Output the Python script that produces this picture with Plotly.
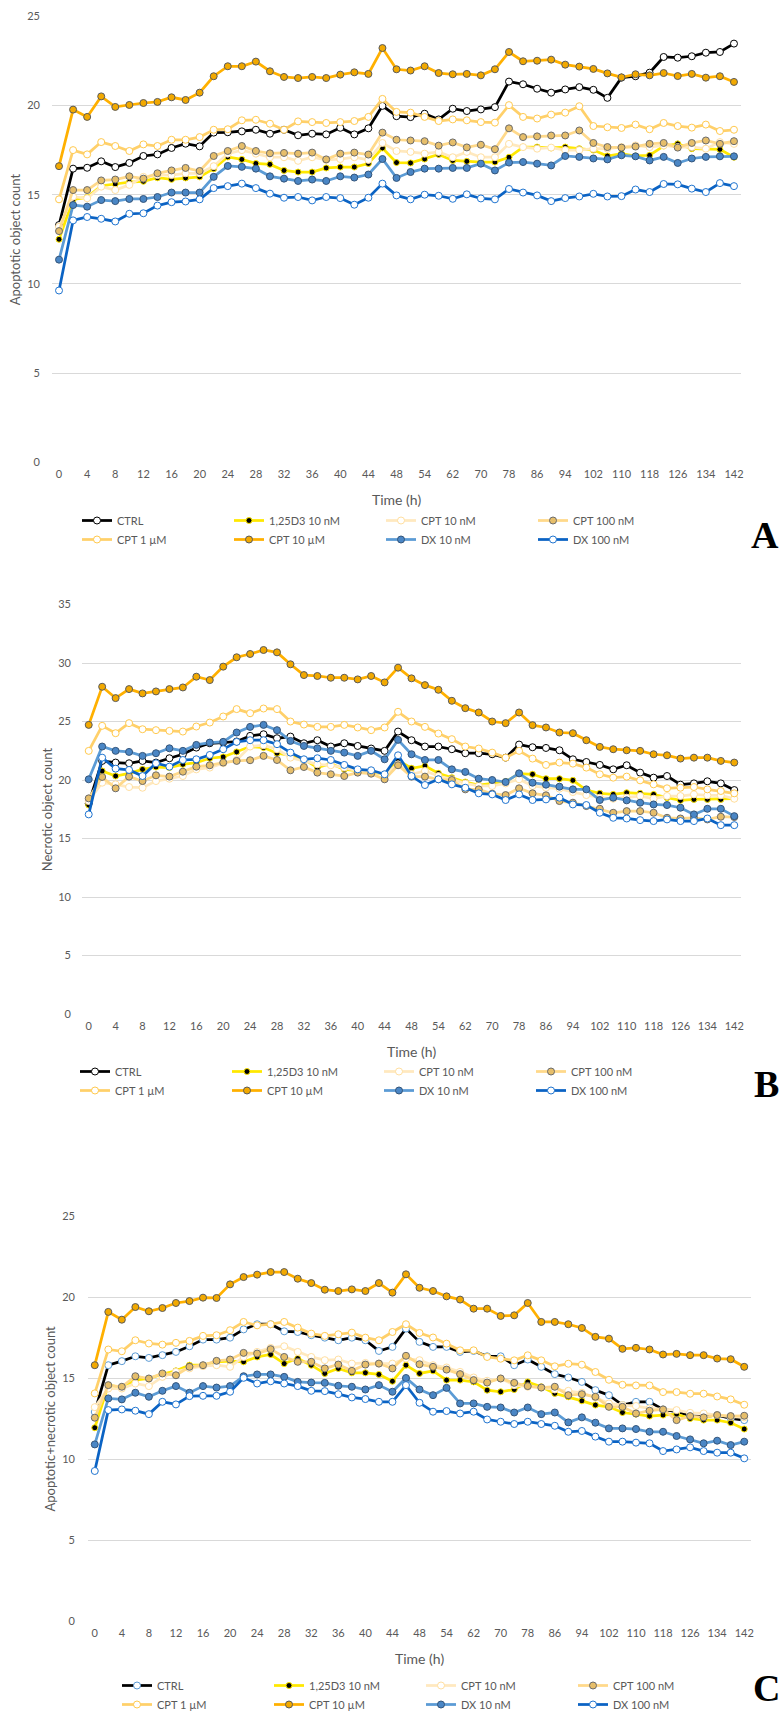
import plotly.graph_objects as go

W, H = 781, 1711
RIGHT_MARGIN = 30          # keeps each horizontal legend at four entries per row
PW = W - RIGHT_MARGIN      # paper (plotting) width in px

# Sampling times (h); every other one is labelled on the axis
time_labels = ["0", "2", "4", "6", "8", "10", "12", "14", "16", "18", "20", "22", "24",
               "26", "28", "30", "32", "34", "36", "38", "40", "42", "44", "46", "48",
               "50", "54", "58", "62", "66", "70", "74", "78", "82", "86", "90", "94",
               "98", "102", "106", "110", "114", "118", "122", "126", "130", "134", "138", "142"]

series_names = ["CTRL", "1,25D3 10 nM", "CPT 10 nM", "CPT 100 nM",
                "CPT 1 µM", "CPT 10 µM", "DX 10 nM", "DX 100 nM"]

# ---- Apoptotic object count ----
apo_ctrl = [13.3, 16.46, 16.51, 16.87, 16.55, 16.78, 17.17, 17.26, 17.62, 17.86, 17.71, 18.48, 18.5,
            18.55, 18.64, 18.42, 18.64, 18.33, 18.42, 18.38, 18.75, 18.38, 18.72, 19.98, 19.4,
            19.35, 19.54, 19.22, 19.82, 19.69, 19.78, 19.91, 21.34, 21.19, 20.94, 20.72, 20.9,
            21.03, 20.88, 20.43, 21.56, 21.64, 21.84, 22.72, 22.68, 22.76, 22.96, 23.0, 23.47]
apo_d3 = [12.5, 14.74, 14.85, 15.5, 15.6, 15.7, 15.75, 15.95, 15.86, 15.94, 16.0, 16.46, 17.12,
          16.98, 16.75, 16.7, 16.36, 16.27, 16.27, 16.5, 16.55, 16.55, 16.75, 17.62, 16.8,
          16.78, 17.0, 17.26, 16.92, 16.87, 16.83, 16.83, 17.1, 17.67, 17.67, 17.62, 17.67,
          17.58, 17.5, 17.17, 17.3, 17.17, 17.21, 17.73, 17.85, 17.58, 17.58, 17.54, 17.1]
apo_cpt10n = [13.2, 14.89, 14.8, 15.45, 15.26, 15.55, 16.0, 16.1, 16.1, 16.2, 16.2, 16.6, 17.3,
              17.5, 17.3, 17.1, 17.1, 16.9, 17.1, 16.95, 17.0, 17.1, 16.95, 17.9, 17.45,
              17.4, 17.3, 17.4, 17.1, 17.4, 17.1, 17.1, 17.85, 17.67, 17.58, 17.64, 17.5,
              17.5, 17.58, 17.58, 17.67, 17.76, 17.67, 17.76, 17.67, 17.67, 17.58, 17.95, 17.85]
apo_cpt100n = [12.96, 15.26, 15.26, 15.8, 15.85, 16.03, 15.9, 16.2, 16.36, 16.5, 16.33, 17.17, 17.45,
               17.73, 17.45, 17.32, 17.34, 17.3, 17.36, 16.98, 17.3, 17.36, 17.25, 18.48, 18.08,
               18.04, 18.0, 17.75, 17.93, 17.65, 17.8, 17.55, 18.72, 18.23, 18.27, 18.32, 18.32,
               18.6, 17.9, 17.67, 17.64, 17.7, 17.85, 17.9, 17.64, 17.9, 18.04, 17.85, 18.0]
apo_cpt1u = [14.74, 17.5, 17.26, 17.95, 17.73, 17.45, 17.82, 17.73, 18.08, 18.08, 18.23, 18.64, 18.67,
             19.17, 19.2, 18.98, 18.64, 19.11, 19.07, 19.02, 19.07, 19.13, 19.36, 20.37, 19.64,
             19.6, 19.36, 19.13, 19.22, 19.17, 19.07, 19.04, 20.02, 19.36, 19.27, 19.49, 19.6,
             19.96, 18.85, 18.78, 18.74, 18.93, 18.67, 19.02, 18.85, 18.76, 18.93, 18.57, 18.64]
apo_cpt10u = [16.6, 19.77, 19.36, 20.51, 19.92, 20.03, 20.14, 20.2, 20.46, 20.31, 20.72, 21.64, 22.2,
              22.2, 22.46, 21.92, 21.6, 21.54, 21.6, 21.54, 21.73, 21.86, 21.77, 23.22, 22.03,
              21.96, 22.2, 21.82, 21.75, 21.77, 21.69, 22.03, 23.0, 22.48, 22.51, 22.57, 22.29,
              22.18, 22.05, 21.8, 21.58, 21.75, 21.69, 21.82, 21.65, 21.77, 21.56, 21.64, 21.32]
apo_dx10n = [11.36, 14.42, 14.33, 14.7, 14.64, 14.76, 14.76, 14.87, 15.12, 15.12, 15.12, 16.0, 16.61,
             16.56, 16.46, 16.03, 15.9, 15.77, 15.85, 15.77, 16.03, 15.96, 16.13, 17.0, 15.94,
             16.27, 16.46, 16.46, 16.5, 16.5, 16.74, 16.36, 16.8, 16.83, 16.74, 16.64, 17.17,
             17.12, 17.03, 16.98, 17.21, 17.15, 16.92, 17.12, 16.78, 17.03, 17.12, 17.15, 17.15]
apo_dx100n = [9.63, 13.56, 13.75, 13.65, 13.5, 13.93, 13.96, 14.39, 14.58, 14.62, 14.74, 15.37, 15.48,
              15.62, 15.37, 15.06, 14.83, 14.87, 14.68, 14.87, 14.81, 14.44, 14.83, 15.62, 14.96,
              14.74, 15.0, 14.94, 14.77, 15.02, 14.79, 14.74, 15.32, 15.12, 14.96, 14.64, 14.81,
              14.9, 15.05, 14.9, 14.92, 15.29, 15.15, 15.6, 15.58, 15.34, 15.15, 15.65, 15.48]

# ---- Necrotic object count ----
nec_ctrl = [18.0, 21.63, 21.49, 21.43, 21.63, 21.49, 21.86, 22.2, 22.77, 23.14, 23.2, 23.29, 23.77,
            23.91, 23.57, 23.71, 23.14, 23.4, 22.86, 23.14, 22.91, 22.69, 22.49, 24.14, 23.4,
            22.86, 22.86, 22.63, 22.29, 22.29, 22.2, 21.91, 23.03, 22.8, 22.74, 22.54, 21.77,
            21.54, 21.29, 20.91, 21.26, 20.63, 20.2, 20.34, 19.6, 19.71, 19.89, 19.71, 19.14]
nec_d3 = [17.86, 20.77, 20.34, 20.57, 20.91, 21.11, 21.06, 21.34, 21.49, 21.86, 21.97, 22.4, 22.86,
          22.77, 22.29, 22.11, 21.77, 21.06, 21.4, 20.91, 20.83, 20.69, 20.49, 21.69, 21.0,
          21.2, 20.57, 20.2, 19.83, 19.57, 19.71, 19.86, 20.54, 20.49, 20.11, 20.11, 19.97,
          19.14, 18.86, 18.77, 18.91, 18.86, 18.77, 18.49, 18.26, 18.34, 18.34, 18.34, 18.4]
nec_cpt10n = [18.2, 19.77, 19.63, 19.4, 19.34, 19.91, 20.11, 20.34, 20.91, 21.06, 21.43, 21.71, 22.86,
              22.97, 22.63, 21.91, 21.63, 21.34, 21.26, 21.06, 20.77, 20.77, 20.49, 21.34, 20.49,
              20.77, 20.34, 20.06, 19.71, 19.49, 19.49, 19.71, 20.06, 19.49, 19.34, 19.26, 18.97,
              18.71, 18.49, 18.4, 18.49, 18.63, 18.4, 18.63, 18.63, 18.77, 18.69, 18.69, 18.4]
nec_cpt100n = [18.43, 20.26, 19.29, 20.29, 19.91, 20.4, 20.29, 20.71, 21.14, 21.26, 21.49, 21.63, 21.69,
               22.06, 21.71, 20.83, 21.11, 20.63, 20.49, 20.34, 20.63, 20.54, 20.06, 21.26, 20.29,
               20.29, 20.06, 20.0, 19.2, 19.2, 18.83, 18.71, 19.29, 18.86, 18.69, 18.2, 18.06,
               17.77, 17.54, 17.2, 17.34, 17.34, 17.2, 16.77, 16.71, 16.77, 16.63, 16.86, 16.83]
nec_cpt1u = [22.49, 24.63, 24.0, 24.86, 24.34, 24.26, 24.2, 24.14, 24.57, 24.91, 25.43, 26.06, 25.71,
             26.11, 26.06, 25.0, 24.74, 24.54, 24.54, 24.71, 24.49, 24.26, 24.49, 25.83, 25.0,
             24.54, 23.97, 23.49, 22.86, 22.69, 22.34, 21.91, 22.49, 21.83, 21.29, 21.49, 21.4,
             21.06, 20.49, 20.2, 20.29, 19.97, 19.63, 19.29, 19.34, 19.4, 19.2, 19.06, 18.86]
nec_cpt10u = [24.71, 27.97, 27.0, 27.77, 27.4, 27.57, 27.77, 27.91, 28.83, 28.54, 29.69, 30.49, 30.77,
              31.11, 30.91, 29.89, 28.97, 28.89, 28.74, 28.74, 28.6, 28.89, 28.34, 29.6, 28.69,
              28.11, 27.71, 26.77, 26.14, 25.77, 25.0, 24.86, 25.77, 24.69, 24.49, 24.06, 24.0,
              23.4, 22.83, 22.63, 22.54, 22.49, 22.2, 22.11, 21.83, 21.91, 21.91, 21.63, 21.49]
nec_dx10n = [20.06, 22.86, 22.49, 22.4, 22.06, 22.29, 22.71, 22.49, 23.0, 23.2, 23.26, 24.06, 24.54,
             24.71, 24.26, 23.34, 22.91, 22.71, 22.49, 22.34, 22.06, 22.49, 21.77, 23.43, 22.2,
             21.71, 21.71, 20.91, 20.69, 20.11, 20.0, 19.83, 20.57, 19.77, 19.6, 19.43, 19.2,
             19.2, 18.29, 18.49, 18.26, 18.06, 17.91, 17.86, 17.63, 17.06, 17.54, 17.54, 16.91]
nec_dx100n = [17.06, 21.91, 20.97, 20.86, 20.34, 21.43, 21.14, 21.71, 21.77, 22.14, 22.63, 23.26, 23.4,
              23.4, 23.06, 22.34, 21.77, 21.86, 21.71, 21.29, 20.91, 20.83, 20.49, 22.11, 20.34,
              19.57, 20.06, 19.63, 19.34, 18.86, 18.77, 18.29, 18.77, 18.29, 18.34, 18.49, 17.91,
              17.86, 17.2, 16.77, 16.71, 16.57, 16.49, 16.63, 16.49, 16.49, 16.71, 16.14, 16.14]

# ---- Apoptotic + necrotic object count ----
tot_ctrl = [12.9, 15.79, 16.04, 16.34, 16.24, 16.41, 16.61, 16.96, 17.37, 17.37, 17.49, 18.0, 18.32,
            18.32, 17.88, 17.84, 17.64, 17.49, 17.33, 17.49, 17.33, 16.67, 16.92, 18.05, 17.23,
            16.92, 16.92, 16.61, 16.67, 16.34, 16.34, 15.79, 16.14, 15.69, 15.24, 15.03, 14.76,
            14.25, 13.94, 13.33, 13.53, 13.53, 13.06, 12.92, 12.67, 12.61, 12.71, 12.5, 12.4]
tot_d3 = [11.93, 14.56, 14.41, 14.87, 14.97, 15.24, 15.44, 15.79, 15.79, 16.0, 16.04, 16.0, 16.3,
          16.45, 15.89, 16.2, 15.79, 15.28, 15.59, 15.32, 15.32, 15.22, 14.8, 15.79, 15.28,
          15.44, 14.87, 14.87, 14.76, 14.25, 14.15, 14.29, 14.76, 14.46, 14.05, 13.84, 13.59,
          13.33, 13.22, 12.87, 12.77, 12.65, 12.71, 12.77, 12.5, 12.4, 12.4, 12.24, 11.85]
tot_cpt10n = [13.2, 14.35, 14.35, 14.66, 14.5, 15.07, 15.38, 15.59, 15.73, 15.79, 15.69, 16.3, 16.61,
              16.86, 16.96, 16.61, 16.3, 16.1, 16.14, 15.89, 15.93, 15.89, 15.89, 16.2, 16.1,
              15.79, 15.65, 15.38, 15.03, 14.83, 14.97, 14.56, 14.46, 14.41, 14.29, 14.21, 14.09,
              13.8, 13.43, 13.33, 13.27, 13.12, 13.06, 13.02, 12.85, 12.81, 12.71, 12.61, 12.57]
tot_cpt100n = [12.55, 14.56, 14.46, 15.11, 14.97, 15.28, 15.17, 15.69, 15.79, 16.06, 16.14, 16.55, 16.51,
               16.78, 16.3, 16.0, 16.0, 15.59, 15.83, 15.44, 15.83, 15.89, 15.59, 16.37, 15.85,
               15.69, 15.52, 15.24, 14.87, 14.72, 14.97, 14.7, 14.5, 14.41, 14.46, 13.94, 14.0,
               13.84, 13.22, 13.22, 12.81, 12.98, 13.06, 12.4, 12.65, 12.57, 12.71, 12.65, 12.67]
tot_cpt1u = [14.05, 16.76, 16.65, 17.33, 17.13, 17.06, 17.17, 17.29, 17.6, 17.64, 17.95, 18.46, 18.25,
             18.32, 18.46, 18.11, 17.74, 17.6, 17.7, 17.8, 17.49, 17.33, 17.84, 18.32, 17.78,
             17.5, 17.12, 16.71, 16.71, 16.3, 16.19, 16.09, 16.4, 16.09, 15.72, 15.88, 15.82,
             15.37, 14.89, 14.58, 14.54, 14.54, 14.13, 14.13, 14.03, 14.03, 13.86, 13.68, 13.35]
tot_cpt10u = [15.79, 19.08, 18.6, 19.38, 19.12, 19.32, 19.63, 19.75, 19.96, 19.94, 20.78, 21.23, 21.38,
              21.54, 21.54, 21.13, 20.86, 20.45, 20.37, 20.47, 20.37, 20.86, 20.27, 21.4, 20.57,
              20.37, 20.04, 19.84, 19.28, 19.28, 18.83, 18.87, 19.63, 18.46, 18.46, 18.32, 18.09,
              17.54, 17.43, 16.8, 16.86, 16.76, 16.45, 16.49, 16.41, 16.41, 16.2, 16.16, 15.69]
tot_dx10n = [10.9, 13.74, 13.68, 14.09, 13.84, 14.21, 14.5, 14.09, 14.5, 14.41, 14.5, 15.11, 15.22,
             15.22, 15.07, 14.76, 14.72, 14.7, 14.52, 14.46, 14.29, 14.56, 14.15, 15.0, 14.29,
             13.94, 14.39, 13.43, 13.43, 13.22, 13.18, 12.87, 13.18, 12.77, 12.87, 12.26, 12.57,
             12.24, 11.89, 11.89, 11.85, 11.68, 11.68, 11.42, 11.21, 10.97, 11.13, 10.86, 11.07]
tot_dx100n = [9.26, 13.02, 13.06, 12.98, 12.77, 13.53, 13.37, 13.88, 13.9, 13.9, 14.15, 15.01, 14.66,
              14.8, 14.66, 14.5, 14.21, 14.19, 14.0, 13.8, 13.7, 13.53, 13.53, 14.56, 13.47,
              12.92, 12.96, 12.81, 12.92, 12.44, 12.3, 12.16, 12.3, 12.16, 12.05, 11.68, 11.73,
              11.38, 11.07, 11.07, 11.01, 10.97, 10.49, 10.59, 10.72, 10.49, 10.39, 10.39, 10.04]

# line colour, marker fill, marker outline
styles = [
    ("#000000", "#FFFFFF", "#000000"),
    ("#FFE800", "#000000", "#FFE800"),
    ("#FFE9BF", "#FFFFFF", "#FFDFA0"),
    ("#FFD98A", "#E6BE6A", "#6B6B6B"),
    ("#FFD06A", "#FFFFFF", "#FFC94D"),
    ("#FFB000", "#F2A900", "#5A5A5A"),
    ("#5B9BD5", "#4A86C5", "#34557A"),
    ("#0B63C4", "#FFFFFF", "#1F74D0"),
]

FONT = "Lato"
GREY = "#595959"
GRID = "#D9D9D9"


def px(x):
    """pixel x -> paper fraction"""
    return x / PW


def cx(x):
    """pixel x -> container fraction"""
    return x / W


def py(y):
    return 1 - y / H


panels = [
    dict(series=[apo_ctrl, apo_d3, apo_cpt10n, apo_cpt100n, apo_cpt1u, apo_cpt10u, apo_dx10n, apo_dx100n],
         ymax=25, xdom=(52, 741), ydom=(16.3, 462.3), title="Apoptotic object count",
         ytitle_x=15, legend_xy=(77, 506), tick_standoff=11, letter="A", letter_xy=(765, 535)),
    dict(series=[nec_ctrl, nec_d3, nec_cpt10n, nec_cpt100n, nec_cpt1u, nec_cpt10u, nec_dx10n, nec_dx100n],
         ymax=35, xdom=(82, 741), ydom=(604.5, 1014), title="Necrotic object count",
         ytitle_x=47, legend_xy=(75, 1057), tick_standoff=10, letter="B", letter_xy=(766, 1084)),
    dict(series=[tot_ctrl, tot_d3, tot_cpt10n, tot_cpt100n, tot_cpt1u, tot_cpt10u, tot_dx10n, tot_dx100n],
         ymax=25, xdom=(88, 751), ydom=(1216, 1621), title="Apoptotic+necrotic object count",
         ytitle_x=49, legend_xy=(117, 1671), tick_standoff=12, letter="C", letter_xy=(766, 1688)),
]

fig = go.Figure()
annotations = []
layout = {}

for p_idx, p in enumerate(panels):
    sfx = "" if p_idx == 0 else str(p_idx + 1)
    leg = "legend" + sfx
    for s_idx, (name, vals) in enumerate(zip(series_names, p["series"])):
        lc, mf, mo = styles[s_idx]
        if p_idx == 2 and s_idx == 0:
            mo = "#5B9BD5"
        size = 6 if s_idx == 1 else 7
        fig.add_trace(go.Scatter(
            x=time_labels, y=vals, name=name, mode="lines+markers",
            line=dict(color=lc, width=2.75),
            marker=dict(symbol="circle", size=size, color=mf, line=dict(color=mo, width=1)),
            xaxis="x" + sfx, yaxis="y" + sfx, legend=leg, hoverinfo="skip",
        ))

    x0, x1 = p["xdom"]
    ytop, ybot = p["ydom"]
    layout["xaxis" + sfx] = dict(
        domain=[px(x0), min(px(x1), 1.0)], anchor="y" + sfx, type="category",
        categoryorder="array", categoryarray=time_labels, range=[-0.5, len(time_labels) - 0.5],
        tickmode="array", tickvals=time_labels[::2], ticks="", showgrid=False,
        showline=False, zeroline=False, ticklabelstandoff=4,
        tickfont=dict(family=FONT, size=11, color=GREY),
    )
    layout["yaxis" + sfx] = dict(
        domain=[py(ybot), py(ytop)], anchor="x" + sfx, range=[0, p["ymax"]],
        tick0=0, dtick=5, showgrid=True, gridcolor=GRID, gridwidth=1,
        zeroline=False, showline=False, ticks="", ticklabelstandoff=p["tick_standoff"],
        tickfont=dict(family=FONT, size=11, color=GREY),
    )
    lgx, lgy = p["legend_xy"]
    layout[leg] = dict(
        orientation="h", xref="container", yref="container",
        x=cx(lgx), xanchor="left", y=py(lgy), yanchor="top",
        entrywidth=107, entrywidthmode="pixels", itemwidth=30,
        font=dict(family=FONT, size=11, color=GREY),
        bgcolor="rgba(0,0,0,0)", traceorder="normal", tracegroupgap=0,
    )

    # axis titles
    annotations.append(dict(
        text=p["title"], textangle=-90, x=px(p["ytitle_x"]), y=py((ytop + ybot) / 2),
        xref="paper", yref="paper", showarrow=False, xanchor="center", yanchor="middle",
        font=dict(family=FONT, size=13, color=GREY),
    ))
    annotations.append(dict(
        text="Time (h)", x=px((x0 + x1) / 2), y=py(ybot + 37),
        xref="paper", yref="paper", showarrow=False, xanchor="center", yanchor="middle",
        font=dict(family=FONT, size=14, color=GREY),
    ))
    lx, ly = p["letter_xy"]
    annotations.append(dict(
        text="<b>%s</b>" % p["letter"], x=px(lx), y=py(ly),
        xref="paper", yref="paper", showarrow=False, xanchor="center", yanchor="middle",
        font=dict(family="Liberation Serif", size=38, color="#000000"),
    ))

fig.update_layout(
    width=W, height=H,
    margin=dict(l=0, r=RIGHT_MARGIN, t=0, b=0, autoexpand=False),
    paper_bgcolor="#FFFFFF", plot_bgcolor="#FFFFFF",
    font=dict(family=FONT, color=GREY),
    annotations=annotations, **layout,
)

fig.write_html("out.html")
